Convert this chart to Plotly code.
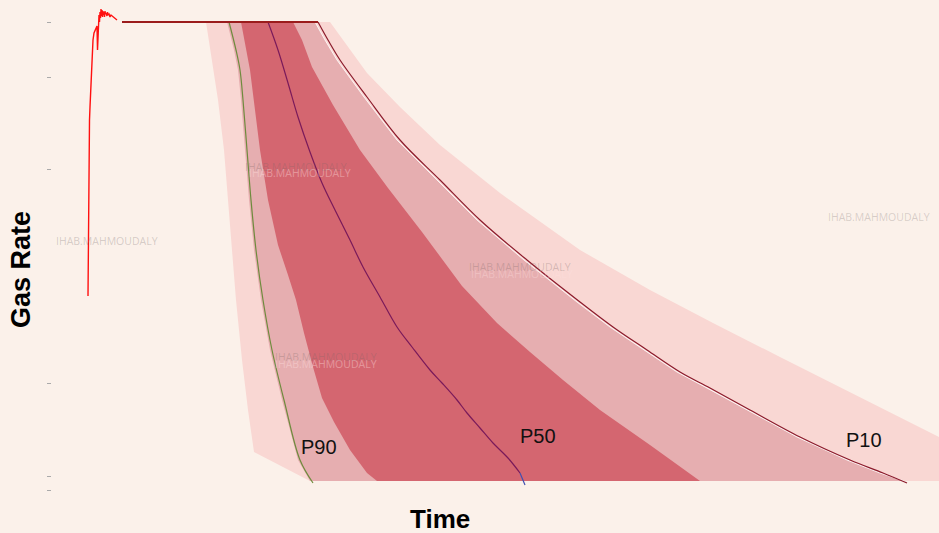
import plotly.graph_objects as go

# ---- data (time in days, rate in arbitrary units) ----
# production history (noisy ramp-up)
hist_t = [36, 36.3, 36.6, 37, 37.5, 38, 38.5, 39, 39.5, 40, 41, 42, 43, 44, 45, 45.5, 46, 46.5, 47, 47.5,
          48, 48.5, 49, 49.5, 50, 50.5, 51, 51.5, 52, 52.5, 53, 53.5, 54, 55, 55.5, 56, 57, 58, 59, 60,
          61, 62, 63, 64, 65]
hist_q = [194, 240, 290, 330, 370, 383, 395, 410, 425, 435, 450, 457, 460, 462, 464, 440, 450, 470, 475, 468,
          478, 472, 481, 474, 480, 473, 479, 475, 478, 473, 479, 476, 477, 474, 478, 475, 476, 473, 475, 474,
          473, 472, 472, 471, 470]

# plateau (constrained rate)
plateau_t = [70, 266]
plateau_q = [468, 468]

# outer envelope (light band)
outer_left_t = [154, 160, 166, 172, 176, 180, 184, 190, 196, 202, 258]
outer_left_q = [468, 430, 390, 340, 290, 240, 190, 130, 80, 38, 9]
outer_right_t = [278, 298, 315, 348, 388, 448, 528, 598, 661, 728, 795, 887, 908]
outer_right_q = [468, 440, 417, 383, 345, 297, 240, 200, 167, 133, 99, 53, 43]

# P90 profile and medium band left edge
p90_t = [177, 184, 188, 191, 195, 199, 204, 211, 220, 232, 248, 261]
p90_q = [468, 440, 420, 390, 340, 290, 240, 190, 140, 90, 30, 7]
mid_left_t = [175, 182, 186, 189, 193, 197, 202, 209, 218, 230, 246, 258]
mid_left_q = [468, 440, 420, 390, 340, 290, 240, 190, 140, 90, 30, 9]

# P10 profile and medium band right edge
p10_t = [266, 276, 288, 315, 348, 388, 428, 475, 528, 561, 595, 628, 658, 698, 748, 798, 831, 855]
p10_q = [468, 450, 430, 393, 350, 310, 270, 230, 188, 163, 140, 118, 102, 80, 53, 30, 17, 7]
mid_right_t = [263, 273, 285, 312, 345, 385, 425, 472, 525, 558, 592, 625, 655, 695, 745, 795, 828, 852]
mid_right_q = [468, 450, 430, 393, 350, 310, 270, 230, 188, 163, 140, 118, 102, 80, 53, 30, 17, 9]

# inner (dark) band
in_left_t = [189, 194, 198, 203, 208, 216, 226, 236, 244, 252, 261, 270, 282, 298, 315, 325]
in_left_q = [468, 440, 420, 380, 340, 290, 245, 215, 190, 157, 123, 92, 68, 40, 17, 9]
in_right_t = [241, 250, 260, 281, 308, 336, 370, 410, 445, 478, 511, 548, 598, 648]
in_right_q = [468, 450, 423, 385, 340, 302, 258, 204, 167, 138, 110, 80, 45, 9]

# P50 profile
p50_t = [216, 226, 236, 246, 258, 270, 283, 298, 311, 328, 345, 360, 378, 390, 405, 415, 428, 441, 456, 468, 473]
p50_q = [468, 440, 407, 373, 338, 307, 280, 250, 223, 193, 163, 143, 120, 107, 90, 77, 62, 47, 32, 17, 5]

y_ticks = [468, 413, 321, 107, 14, 0]
labels = ["P90", "P50", "P10"]
label_t = [267, 486, 812]
label_q = [43, 54, 50]
wm_text = "IHAB.MAHMOUDALY"

BG = "#FBF1EA"
fig = go.Figure()

def band(lt, lq, rt, rq, color, extra_t=None, extra_q=None):
    xs = list(lt)
    ys = list(lq)
    if extra_t:
        xs += extra_t
        ys += extra_q
    xs += list(reversed(rt))
    ys += list(reversed(rq))
    fig.add_trace(go.Scatter(x=xs, y=ys, fill="toself", fillcolor=color, mode="lines",
                             line=dict(width=0), hoverinfo="skip", showlegend=False))

band(outer_left_t, outer_left_q, outer_right_t, outer_right_q, "#F9D7D3",
     extra_t=[outer_right_t[-1]], extra_q=[outer_left_q[-1]])
band(mid_left_t, mid_left_q, mid_right_t, mid_right_q, "#E6AEB0")
band(in_left_t, in_left_q, in_right_t, in_right_q, "#D46670")

# thin white highlight along medium band edge
fig.add_trace(go.Scatter(x=mid_right_t, y=mid_right_q, mode="lines",
                         line=dict(color="rgba(255,255,255,0.8)", width=1),
                         showlegend=False))

fig.add_trace(go.Scatter(x=p90_t, y=p90_q, mode="lines", line=dict(color="#6E8B3D", width=1.2, shape="spline"), showlegend=False))
fig.add_trace(go.Scatter(x=p50_t[:-1], y=p50_q[:-1], mode="lines", line=dict(color="#7A1A5A", width=1.2, shape="spline"), showlegend=False))
fig.add_trace(go.Scatter(x=p50_t[-2:], y=p50_q[-2:], mode="lines", line=dict(color="#4050B0", width=1.2), showlegend=False))
fig.add_trace(go.Scatter(x=p10_t, y=p10_q, mode="lines", line=dict(color="#8B1A2B", width=1.2, shape="spline"), showlegend=False))

fig.add_trace(go.Scatter(x=hist_t, y=hist_q, mode="lines", line=dict(color="#FF1010", width=1.4), showlegend=False))
fig.add_trace(go.Scatter(x=plateau_t, y=plateau_q, mode="lines", line=dict(color="#9B1C1C", width=2), showlegend=False))

for txt, t, q in zip(labels, label_t, label_q):
    fig.add_annotation(x=t, y=q, text=txt, showarrow=False, xanchor="center", yanchor="middle",
                       font=dict(family="Liberation Sans, Arial", size=20, color="#111"))

# watermarks
wm = [(55, 249, "rgba(120,110,110,0.3)"),
      (244, 323, "rgba(120,100,100,0.28)"), (248, 317, "rgba(255,225,225,0.4)"),
      (468, 223, "rgba(120,100,100,0.28)"), (470, 216, "rgba(255,225,225,0.35)"),
      (827, 273, "rgba(120,110,110,0.28)"),
      (274, 133, "rgba(120,100,100,0.28)"), (274, 126, "rgba(255,225,225,0.4)")]
for t, q, c in wm:
    fig.add_annotation(x=t, y=q, text=wm_text, showarrow=False, xanchor="center", yanchor="middle",
                       font=dict(family="Open Sans", size=10.5, color=c))

fig.add_annotation(xref="paper", yref="paper", x=-0.035, y=0.451, text="<b>Gas Rate</b>",
                   textangle=-90, showarrow=False, xanchor="center", yanchor="middle",
                   font=dict(family="Liberation Sans, Arial", size=27, color="#000"))
fig.add_annotation(xref="paper", yref="paper", x=0.437, y=-0.059, text="<b>Time</b>",
                   showarrow=False, xanchor="center", yanchor="middle",
                   font=dict(family="Liberation Sans, Arial", size=26, color="#000"))

fig.update_layout(
    width=939, height=533,
    margin=dict(l=52, r=0, t=0, b=43),
    paper_bgcolor=BG, plot_bgcolor=BG,
    showlegend=False,
    xaxis=dict(range=[0, 887], showgrid=False, zeroline=False, showticklabels=False,
               showline=False, ticks=""),
    yaxis=dict(range=[0, 490], showgrid=False, zeroline=False, showticklabels=False,
               showline=False, ticks="outside", tickvals=y_ticks, ticklen=4,
               tickcolor="#AAAAAA", tickwidth=1),
)

fig.write_html("out.html", config={"displayModeBar": False},
               post_script="document.body.style.margin='0';document.body.style.overflow='hidden';")
